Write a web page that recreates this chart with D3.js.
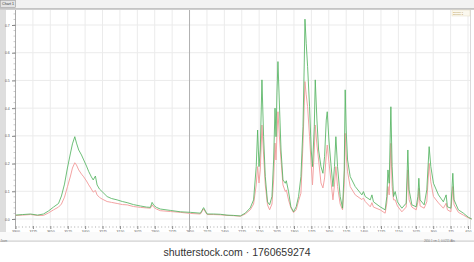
<!DOCTYPE html>
<html>
<head>
<meta charset="utf-8">
<script src="https://cdn.jsdelivr.net/npm/d3@7"></script>
<style>
  html, body { margin: 0; padding: 0; background: #fff; }
  svg { display: block; font-family: "Liberation Sans", Arial, sans-serif; }
</style>
</head>
<body>
<div id="plot"></div>
<script>
// wavenumber (cm-1) of each sample point
const wavenumber = [3900, 3850, 3792, 3742, 3699, 3663, 3627, 3591, 3570, 3548,
  3527, 3505, 3491, 3474, 3462, 3446, 3426, 3410, 3390, 3374,
  3355, 3342, 3326, 3314, 3297, 3278, 3242, 3211, 3170, 3132,
  3098, 3053, 3003, 2960, 2931, 2919, 2906, 2888, 2860, 2788,
  2716, 2644, 2572, 2549, 2524, 2479, 2429, 2381, 2336, 2285,
  2250, 2214, 2190, 2171, 2161, 2151, 2142, 2130, 2118, 2106,
  2090, 2075, 2058, 2046, 2036, 2029, 2022, 2015, 2003, 1993,
  1979, 1962, 1955, 1939, 1922, 1903, 1884, 1867, 1850, 1835,
  1826, 1821, 1812, 1802, 1788, 1776, 1767, 1754, 1747, 1735,
  1723, 1706, 1692, 1680, 1668, 1661, 1649, 1635, 1620, 1609,
  1599, 1587, 1568, 1551, 1539, 1532, 1525, 1515, 1496, 1460,
  1412, 1401, 1388, 1352, 1340, 1329, 1281, 1245, 1233, 1225,
  1216, 1204, 1195, 1185, 1173, 1157, 1125, 1094, 1082, 1073,
  1053, 1022, 1010, 1003, 994, 965, 946, 929, 917, 898,
  862, 827, 807, 798, 773, 759, 750, 719, 683, 647, 623];

// green trace
const sampleA = [0.014, 0.016, 0.018, 0.014, 0.018, 0.029, 0.043, 0.056, 0.083, 0.126,
  0.184, 0.238, 0.271, 0.297, 0.274, 0.249, 0.231, 0.213, 0.191, 0.171,
  0.152, 0.141, 0.155, 0.123, 0.108, 0.099, 0.081, 0.074, 0.069, 0.063,
  0.059, 0.052, 0.047, 0.043, 0.042, 0.060, 0.049, 0.042, 0.036, 0.031,
  0.026, 0.024, 0.021, 0.041, 0.018, 0.018, 0.017, 0.014, 0.013, 0.011,
  0.021, 0.040, 0.069, 0.189, 0.321, 0.189, 0.249, 0.502, 0.297, 0.153,
  0.062, 0.051, 0.081, 0.213, 0.400, 0.297, 0.455, 0.568, 0.393, 0.249,
  0.141, 0.129, 0.138, 0.099, 0.044, 0.026, 0.044, 0.081, 0.153, 0.333,
  0.563, 0.721, 0.634, 0.550, 0.405, 0.249, 0.189, 0.333, 0.502, 0.357,
  0.249, 0.189, 0.165, 0.225, 0.357, 0.387, 0.285, 0.201, 0.117, 0.189,
  0.297, 0.189, 0.081, 0.039, 0.177, 0.466, 0.321, 0.213, 0.153, 0.117,
  0.087, 0.099, 0.081, 0.069, 0.087, 0.062, 0.044, 0.033, 0.081, 0.177,
  0.129, 0.405, 0.189, 0.081, 0.099, 0.062, 0.039, 0.057, 0.249, 0.105,
  0.051, 0.044, 0.081, 0.147, 0.069, 0.051, 0.105, 0.261, 0.189, 0.129,
  0.087, 0.062, 0.087, 0.044, 0.039, 0.165, 0.069, 0.033, 0.021, 0.006, 0.000];

// pink trace
const sampleB = [0.013, 0.014, 0.016, 0.013, 0.013, 0.022, 0.033, 0.043, 0.054, 0.079,
  0.116, 0.155, 0.184, 0.203, 0.195, 0.177, 0.162, 0.152, 0.137, 0.123,
  0.108, 0.097, 0.103, 0.087, 0.078, 0.072, 0.063, 0.060, 0.056, 0.052,
  0.051, 0.045, 0.042, 0.040, 0.039, 0.051, 0.042, 0.036, 0.030, 0.027,
  0.024, 0.020, 0.018, 0.036, 0.016, 0.016, 0.015, 0.013, 0.012, 0.010,
  0.018, 0.033, 0.054, 0.123, 0.189, 0.130, 0.177, 0.339, 0.231, 0.123,
  0.051, 0.033, 0.054, 0.141, 0.274, 0.213, 0.303, 0.387, 0.285, 0.213,
  0.123, 0.099, 0.105, 0.069, 0.040, 0.023, 0.033, 0.065, 0.093, 0.274,
  0.411, 0.496, 0.448, 0.405, 0.297, 0.195, 0.123, 0.249, 0.339, 0.267,
  0.213, 0.130, 0.112, 0.148, 0.231, 0.267, 0.206, 0.141, 0.069, 0.123,
  0.189, 0.117, 0.054, 0.033, 0.123, 0.309, 0.231, 0.170, 0.117, 0.087,
  0.070, 0.076, 0.063, 0.044, 0.059, 0.043, 0.033, 0.021, 0.058, 0.117,
  0.087, 0.273, 0.117, 0.069, 0.069, 0.047, 0.026, 0.043, 0.177, 0.069,
  0.043, 0.033, 0.061, 0.111, 0.047, 0.039, 0.062, 0.201, 0.134, 0.081,
  0.058, 0.039, 0.057, 0.033, 0.026, 0.117, 0.051, 0.024, 0.014, 0.004, 0.000];

const xTicks = [3900, 3775, 3650, 3525, 3400, 3275, 3150, 3025, 2900, 2775,
  2650, 2525, 2400, 2275, 2150, 2025, 1900, 1775, 1650, 1525,
  1400, 1275, 1150, 1025, 900, 775, 650];
const yTicks = [0, 0.1, 0.2, 0.3, 0.4, 0.5, 0.6, 0.7];
const cursorAt = 2650;
const seriesNames = ["Sample 1", "Sample 2"];

const width = 474, height = 262;
const plotLeft = 15.5, plotRight = 470.5, plotTop = 10, plotBottom = 225;

const svg = d3.select("#plot").append("svg")
  .attr("width", width).attr("height", height);

const x = d3.scaleLinear().domain([3900, 650]).range([plotLeft, 468]);
const y = d3.scaleLinear().domain([0, 0.7]).range([219, 25]);

// window chrome: tab strip
svg.append("rect").attr("x", 0).attr("y", 0).attr("width", width).attr("height", 8).attr("fill", "#f2f2f2");
svg.append("rect").attr("x", 0.5).attr("y", 0.5).attr("width", 15).attr("height", 7)
  .attr("fill", "#e4e4e4").attr("stroke", "#9a9a9a").attr("stroke-width", 0.6);
svg.append("text").attr("x", 8).attr("y", 5.3).attr("text-anchor", "middle")
  .style("font-size", "3.6px").attr("fill", "#333").text("Chart 1");
svg.append("rect").attr("x", 0).attr("y", 8).attr("width", width).attr("height", 1.8).attr("fill", "#c4c4c4");

// left axis strip
svg.append("rect").attr("x", 0).attr("y", 10).attr("width", 6).attr("height", 230).attr("fill", "#dedede");

// grid
svg.append("g").selectAll("line").data(xTicks).join("line")
  .attr("x1", d => x(d)).attr("x2", d => x(d))
  .attr("y1", plotTop).attr("y2", 228)
  .attr("stroke", "#ebebeb").attr("stroke-width", 1);
svg.append("g").selectAll("line").data(yTicks).join("line")
  .attr("x1", plotLeft).attr("x2", plotRight)
  .attr("y1", d => y(d)).attr("y2", d => y(d))
  .attr("stroke", "#ebebeb").attr("stroke-width", 1);

// frame
svg.append("line").attr("x1", plotLeft).attr("x2", plotLeft).attr("y1", plotTop).attr("y2", 229)
  .attr("stroke", "#9a9a9a").attr("stroke-width", 0.8);
svg.append("line").attr("x1", plotRight).attr("x2", plotRight).attr("y1", plotTop).attr("y2", 229)
  .attr("stroke", "#d0d0d0").attr("stroke-width", 0.8);

// y axis
const yAxis = d3.axisLeft(y).tickValues(yTicks).tickFormat(d3.format(".1f")).tickSize(3.5);
const yg = svg.append("g").attr("transform", `translate(${plotLeft},0)`).call(yAxis);
yg.select(".domain").remove();
yg.selectAll("line").attr("stroke", "#888");
yg.selectAll("text").style("font-size", "3.5px").attr("fill", "#555").attr("dx", "0.8");
svg.append("g").selectAll("line").data(d3.range(0, 0.75, 0.02)).join("line")
  .attr("x1", plotLeft - 2).attr("x2", plotLeft)
  .attr("y1", d => y(d)).attr("y2", d => y(d))
  .attr("stroke", "#999").attr("stroke-width", 0.5);

// x axis
const xAxis = d3.axisBottom(x).tickValues(xTicks).tickFormat(d3.format("d")).tickSize(3);
const xg = svg.append("g").attr("transform", "translate(0,226)").call(xAxis);
xg.select(".domain").remove();
xg.selectAll("line").attr("stroke", "#888");
xg.selectAll("text").style("font-size", "3.5px").attr("fill", "#555").attr("dy", "0.2em");
svg.append("g").selectAll("line").data(d3.range(3900, 649, -25)).join("line")
  .attr("x1", d => x(d)).attr("x2", d => x(d))
  .attr("y1", 226).attr("y2", 228)
  .attr("stroke", "#aaa").attr("stroke-width", 0.5);

// cursor line
svg.append("line").attr("x1", x(cursorAt)).attr("x2", x(cursorAt))
  .attr("y1", plotTop).attr("y2", 232)
  .attr("stroke", "#b0b0b0").attr("stroke-width", 1);

// traces
svg.append("clipPath").attr("id", "clip").append("rect")
  .attr("x", plotLeft).attr("y", plotTop).attr("width", plotRight - plotLeft + 1.5).attr("height", plotBottom - plotTop);

const line = d3.line().x((d, i) => x(wavenumber[i])).y(d => y(d));
const traces = svg.append("g").attr("clip-path", "url(#clip)");
traces.append("path").datum(sampleB).attr("d", line)
  .attr("fill", "none").attr("stroke", "#f3a3a3").attr("stroke-width", 1);
traces.append("path").datum(sampleA).attr("d", line)
  .attr("fill", "none").attr("stroke", "#55b462").attr("stroke-width", 1).attr("stroke-opacity", 0.85);

// legend
const lg = svg.append("g").attr("transform", "translate(452,10)");
lg.append("rect").attr("width", 18).attr("height", 6).attr("fill", "#fbf8ee").attr("stroke", "#e0d6b8").attr("stroke-width", 0.4);
lg.selectAll("text").data(seriesNames).join("text")
  .attr("x", 1).attr("y", (d, i) => 2.6 + i * 2.6)
  .style("font-size", "2.4px").attr("fill", "#b79a55").text(d => d);

// status bar
svg.append("rect").attr("x", 0).attr("y", 232).attr("width", width).attr("height", 9).attr("fill", "#fafafa");
svg.append("rect").attr("x", 0).attr("y", 240.5).attr("width", width).attr("height", 1.2).attr("fill", "#cfcfcf");
svg.append("text").attr("x", 0.5).attr("y", 241.5).style("font-size", "2.6px").attr("fill", "#777").text("Zoom");
svg.append("text").attr("x", 455).attr("y", 241.5).attr("text-anchor", "end")
  .style("font-size", "2.8px").attr("fill", "#777").text("2650.1 cm-1, 0.0215 Abs");

// watermark strip
svg.append("rect").attr("x", 0).attr("y", 243).attr("width", width).attr("height", 19).attr("fill", "#fff");
svg.append("text").attr("x", 237).attr("y", 256).attr("text-anchor", "middle")
  .style("font-size", "10.5px").attr("fill", "#333").text("shutterstock.com · 1760659274");
</script>
</body>
</html>
